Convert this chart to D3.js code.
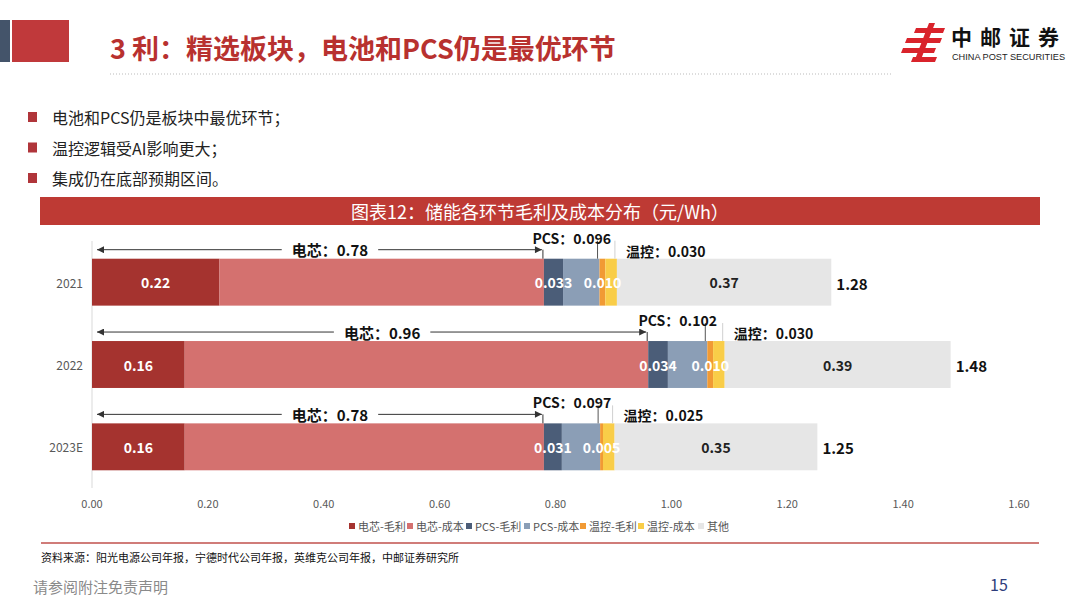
<!DOCTYPE html>
<html>
<head>
<meta charset="utf-8">
<script src="https://cdn.jsdelivr.net/npm/d3@7"></script>
<style>
  html, body { margin: 0; padding: 0; background: #fff; }
  svg { display: block; font-family: "Noto Sans CJK SC", "Noto Sans", sans-serif; }
</style>
</head>
<body>
<svg id="page" width="1080" height="606"></svg>
<script>
// ---------------------------------------------------------------------------
// Data (元/Wh)
const years = ['2021', '2022', '2023E'];
const seriesNames = ['电芯-毛利', '电芯-成本', 'PCS-毛利', 'PCS-成本', '温控-毛利', '温控-成本', '其他'];
const cellProfit = [0.22, 0.16, 0.16];
const cellCost = [0.56, 0.80, 0.62];
const pcsProfit = [0.033, 0.034, 0.031];
const pcsCost = [0.063, 0.068, 0.066];
const thermalProfit = [0.010, 0.010, 0.005];
const thermalCost = [0.020, 0.020, 0.020];
const others = [0.37, 0.39, 0.35];
const xTicks = [0, 0.2, 0.4, 0.6, 0.8, 1.0, 1.2, 1.4, 1.6];
const bullets = ['电池和PCS仍是板块中最优环节；', '温控逻辑受AI影响更大；', '集成仍在底部预期区间。'];

const colors = ['#a5332f', '#d4716f', '#4b5d78', '#8b9eb6', '#f19a34', '#f9cd48', '#e6e6e6'];

// ---------------------------------------------------------------------------
// Page furniture
const svg = d3.select('#page');

svg.append('rect').attr('x', 0).attr('y', 20).attr('width', 10).attr('height', 42).attr('fill', '#44546a');
svg.append('rect').attr('x', 12).attr('y', 20).attr('width', 57).attr('height', 42).attr('fill', '#c0393b');

svg.append('text')
  .attr('x', 110).attr('y', 47)
  .attr('dominant-baseline', 'central')
  .attr('font-size', 27).attr('font-weight', 'bold').attr('fill', '#b8312f')
  .text('3 利：精选板块，电池和PCS仍是最优环节');

svg.append('line')
  .attr('x1', 110).attr('x2', 893).attr('y1', 74).attr('y2', 74)
  .attr('stroke', '#bbb').attr('stroke-width', 1).attr('stroke-dasharray', '1,2');

// logo
const logo = svg.append('g').attr('fill', '#d9232b');
logo.append('path').attr('d', 'M929,23 L935,23 L920,62 L914,62 Z');
logo.append('path').attr('d', 'M916,28 L945,28 L943,33 L914,33 Z');
logo.append('path').attr('d', 'M907,38 L942,38 L940,43 L905,43 Z');
logo.append('path').attr('d', 'M903,48 L936,48 L934,53 L901,53 Z');
logo.append('path').attr('d', 'M913,57 L937,57 L935,62 L911,62 Z');
svg.append('text')
  .attr('x', 951).attr('y', 45)
  .attr('font-size', 21).attr('font-weight', 'bold').attr('fill', '#111')
  .attr('letter-spacing', 8)
  .text('中邮证券');
svg.append('text')
  .attr('x', 952).attr('y', 59.5)
  .attr('font-family', 'Liberation Sans, Arial, sans-serif')
  .attr('font-size', 8.5).attr('fill', '#222')
  .attr('textLength', 113).attr('lengthAdjust', 'spacingAndGlyphs')
  .text('CHINA POST SECURITIES');

// bullets
const bulletRows = svg.append('g').selectAll('g').data(bullets).enter().append('g')
  .attr('transform', (d, i) => `translate(0, ${117 + i * 30.5})`);
bulletRows.append('rect').attr('x', 28).attr('y', -5).attr('width', 9).attr('height', 10).attr('fill', '#b0353a');
bulletRows.append('text')
  .attr('x', 52).attr('y', 0).attr('dominant-baseline', 'central')
  .attr('font-size', 16).attr('fill', '#222')
  .text(d => d);

// chart title band
svg.append('rect').attr('x', 40).attr('y', 197).attr('width', 1000).attr('height', 28).attr('fill', '#be3a34');
svg.append('text')
  .attr('x', 540).attr('y', 211).attr('text-anchor', 'middle').attr('dominant-baseline', 'central')
  .attr('font-size', 18).attr('fill', '#fff')
  .text('图表12：储能各环节毛利及成本分布（元/Wh）');

// ---------------------------------------------------------------------------
// Chart
const x = d3.scaleLinear().domain([0, 1.6]).range([92, 1019]);
const y = d3.scaleBand().domain(years).range([241, 488]).paddingInner(0.43).paddingOuter(0.215);

const table = years.map((year, i) => ({
  year: year,
  '电芯-毛利': cellProfit[i],
  '电芯-成本': cellCost[i],
  'PCS-毛利': pcsProfit[i],
  'PCS-成本': pcsCost[i],
  '温控-毛利': thermalProfit[i],
  '温控-成本': thermalCost[i],
  '其他': others[i]
}));
const stacked = d3.stack().keys(seriesNames)(table);

// axis
svg.append('line')
  .attr('x1', x(0)).attr('x2', x(0)).attr('y1', 241).attr('y2', 488)
  .attr('stroke', '#d9d9d9');

svg.append('g')
  .selectAll('text').data(xTicks).enter().append('text')
  .attr('x', d => x(d)).attr('y', 503)
  .attr('text-anchor', 'middle').attr('dominant-baseline', 'central')
  .attr('font-size', 11).attr('fill', '#595959')
  .text(d => d3.format('.2f')(d));

svg.append('g')
  .selectAll('text').data(years).enter().append('text')
  .attr('x', 83).attr('y', d => y(d) + y.bandwidth() / 2)
  .attr('text-anchor', 'end').attr('dominant-baseline', 'central')
  .attr('font-size', 12).attr('fill', '#595959')
  .text(d => d);

// bars
const layers = svg.append('g').selectAll('g').data(stacked).enter().append('g')
  .attr('fill', (d, i) => colors[i]);
layers.selectAll('rect').data(d => d).enter().append('rect')
  .attr('x', d => x(d[0]))
  .attr('width', d => x(d[1]) - x(d[0]))
  .attr('y', d => y(d.data.year))
  .attr('height', y.bandwidth());

// value labels on segments
const labelSpec = [
  { key: '电芯-毛利', fmt: '.2f', fill: '#fff' },
  { key: 'PCS-毛利', fmt: '.3f', fill: '#fff' },
  { key: '温控-毛利', fmt: '.3f', fill: '#fff' },
  { key: '其他', fmt: '.2f', fill: '#222' }
];
labelSpec.forEach(spec => {
  const layer = stacked.find(s => s.key === spec.key);
  svg.append('g').selectAll('text').data(layer).enter().append('text')
    .attr('x', d => (x(d[0]) + x(d[1])) / 2)
    .attr('y', d => y(d.data.year) + y.bandwidth() / 2)
    .attr('text-anchor', 'middle').attr('dominant-baseline', 'central')
    .attr('font-size', 14).attr('font-weight', 'bold').attr('fill', spec.fill)
    .text(d => d3.format(spec.fmt)(d.data[spec.key]));
});

// totals
const lastLayer = stacked[stacked.length - 1];
svg.append('g').selectAll('text').data(lastLayer).enter().append('text')
  .attr('x', d => x(d[1]) + 5)
  .attr('y', d => y(d.data.year) + y.bandwidth() / 2 + 1)
  .attr('dominant-baseline', 'central')
  .attr('font-size', 15).attr('font-weight', 'bold').attr('fill', '#111')
  .text(d => d3.format('.2f')(d[1]));

// annotations
const defs = svg.append('defs');
['start', 'end'].forEach(side => {
  defs.append('marker')
    .attr('id', 'arrow-' + side)
    .attr('viewBox', '0 0 10 10')
    .attr('refX', side === 'end' ? 10 : 0).attr('refY', 5)
    .attr('markerWidth', 9).attr('markerHeight', 7)
    .attr('markerUnits', 'userSpaceOnUse')
    .attr('orient', 'auto')
    .append('path')
    .attr('d', side === 'end' ? 'M0,0 L10,5 L0,10 Z' : 'M10,0 L0,5 L10,10 Z')
    .attr('fill', '#333');
});

const notes = svg.append('g');
years.forEach((year, i) => {
  const top = y(year);
  const cellTotal = cellProfit[i] + cellCost[i];
  const pcsTotal = pcsProfit[i] + pcsCost[i];
  const thermalTotal = thermalProfit[i] + thermalCost[i];
  const x0 = x(0);
  const xCell = x(cellTotal);
  const xPcs = x(cellTotal + pcsTotal);
  const xThermal = x(cellTotal + pcsTotal + thermalTotal);
  const arrowY = top - 9;
  const cx = (x0 + xCell) / 2 + 12;

  // 电芯 arrow with label
  const label = notes.append('text')
    .attr('x', cx).attr('y', arrowY)
    .attr('text-anchor', 'middle').attr('dominant-baseline', 'central')
    .attr('font-size', 15).attr('font-weight', 'bold').attr('fill', '#111')
    .text('电芯：' + d3.format('.2f')(cellTotal));
  const w = label.node().getComputedTextLength();
  notes.append('line')
    .attr('x1', x0 + 5).attr('x2', cx - w / 2 - 10).attr('y1', arrowY).attr('y2', arrowY)
    .attr('stroke', '#333').attr('marker-start', 'url(#arrow-start)');
  notes.append('line')
    .attr('x1', cx + w / 2 + 10).attr('x2', xCell - 2).attr('y1', arrowY).attr('y2', arrowY)
    .attr('stroke', '#333').attr('marker-end', 'url(#arrow-end)');

  // PCS bracket
  notes.append('line')
    .attr('x1', xCell - 1).attr('x2', xCell - 1).attr('y1', arrowY).attr('y2', top)
    .attr('stroke', '#333');
  notes.append('line')
    .attr('x1', xPcs - 2).attr('x2', xPcs - 2).attr('y1', top - 18).attr('y2', top)
    .attr('stroke', '#555');
  notes.append('text')
    .attr('x', (xCell + xPcs) / 2).attr('y', top - 21)
    .attr('text-anchor', 'middle').attr('dominant-baseline', 'central')
    .attr('font-size', 14).attr('font-weight', 'bold').attr('fill', '#111')
    .text('PCS：' + d3.format('.3f')(pcsTotal));

  // 温控 marker
  notes.append('line')
    .attr('x1', xThermal - 2).attr('x2', xThermal - 2).attr('y1', top - 18).attr('y2', top)
    .attr('stroke', '#d0d0d0');
  notes.append('text')
    .attr('x', xThermal + 9).attr('y', top - 8)
    .attr('dominant-baseline', 'central')
    .attr('font-size', 14).attr('font-weight', 'bold').attr('fill', '#111')
    .text('温控：' + d3.format('.3f')(thermalTotal));
});

// legend
const legendX = [349, 407, 466, 524, 580, 638, 698];
const legend = svg.append('g').selectAll('g').data(seriesNames).enter().append('g')
  .attr('transform', (d, i) => `translate(${legendX[i]}, 526)`);
legend.append('rect').attr('x', 0).attr('y', -3).attr('width', 6).attr('height', 6)
  .attr('fill', (d, i) => colors[i]);
legend.append('text')
  .attr('x', 9).attr('y', 0).attr('dominant-baseline', 'central')
  .attr('font-size', 11).attr('fill', '#555')
  .text(d => d);

// source and footer
svg.append('line')
  .attr('x1', 41).attr('x2', 1039).attr('y1', 543).attr('y2', 543)
  .attr('stroke', '#c0504d').attr('stroke-width', 1.5);
svg.append('text')
  .attr('x', 41).attr('y', 557).attr('dominant-baseline', 'central')
  .attr('font-size', 11).attr('fill', '#111')
  .text('资料来源：阳光电源公司年报，宁德时代公司年报，英维克公司年报，中邮证券研究所');
svg.append('text')
  .attr('x', 33).attr('y', 586).attr('dominant-baseline', 'central')
  .attr('font-size', 15).attr('fill', '#8a8a8a')
  .text('请参阅附注免责声明');
svg.append('text')
  .attr('x', 990).attr('y', 584).attr('dominant-baseline', 'central')
  .attr('font-size', 16).attr('fill', '#2e3d7c')
  .text('15');
</script>
</body>
</html>
